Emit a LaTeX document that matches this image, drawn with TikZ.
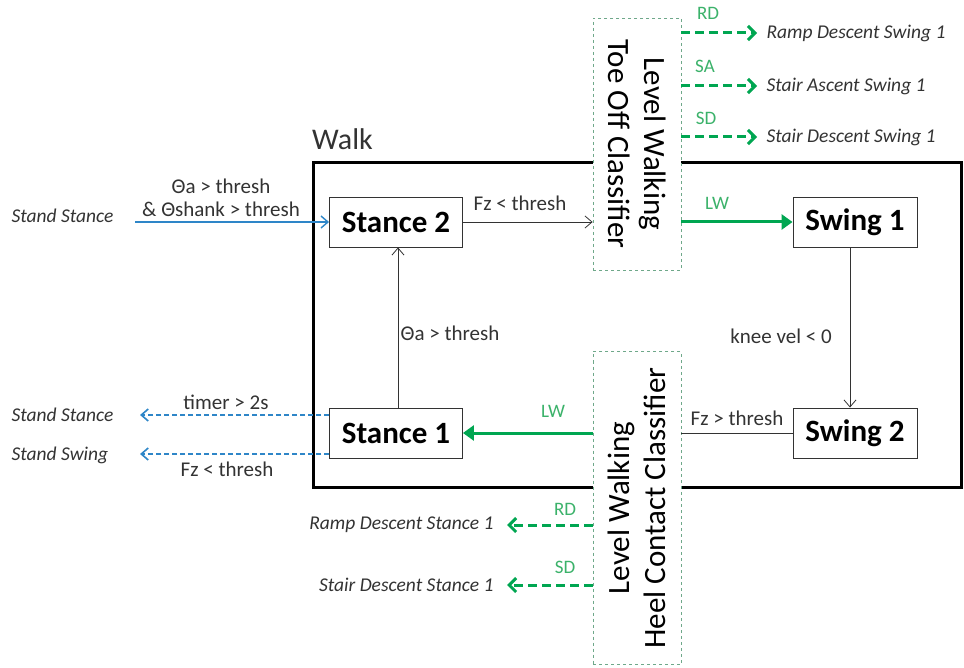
\documentclass[tikz,border=0pt]{standalone}
\usepackage{fontspec}
\setmainfont{Carlito}
\usetikzlibrary{arrows.meta}
\definecolor{gline}{HTML}{00A651}
\definecolor{glab}{HTML}{3BB26A}
\definecolor{bline}{HTML}{2E86C8}
\definecolor{clfborder}{HTML}{6FA88A}
\definecolor{tgray}{HTML}{333333}
\tikzset{
  stbox/.style={draw=tgray, line width=0.9pt, minimum width=133pt, minimum height=50pt, font=\fontsize{31}{33}\selectfont\bfseries, text=black, fill=white, inner sep=0pt},
  clf/.style={draw=clfborder, dashed, line width=0.8pt, fill=white},
  clftext/.style={align=center, font=\fontsize{31}{36}\selectfont, text=black},
  tgt/.style={font=\fontsize{19.5}{22}\selectfont\itshape, text=tgray},
  cond/.style={font=\fontsize{21}{23}\selectfont, text=tgray},
  glabel/.style={font=\fontsize{19}{21}\selectfont, text=glab},
  thinarr/.style={draw=tgray, line width=0.8pt, -{Straight Barb[length=7pt,width=12pt]}},
  bluearr/.style={draw=bline, line width=1.4pt, -{Straight Barb[length=7pt,width=12pt]}},
  bluedash/.style={draw=bline, line width=1.4pt, dash pattern=on 5pt off 3pt, -{Straight Barb[length=7pt,width=12pt,line width=1.6pt]}},
  greenarr/.style={draw=gline, line width=3pt, -{Triangle[length=11pt,width=15pt]}},
  greendash/.style={draw=gline, line width=3pt, dash pattern=on 9pt off 5pt, -{Straight Barb[length=7pt,width=14pt,line width=3pt]}},
}
\begin{document}
\begin{tikzpicture}[x=1pt,y=-1pt]
\useasboundingbox[fill=white] (0,0) rectangle (964,668);
% walk box
\node[draw=black, line width=3pt, minimum width=648pt, minimum height=324pt] (walk) at (637,325) {};
\node[font=\fontsize{30}{32}\selectfont, text=tgray, anchor=base west, inner sep=0pt] (walklabel) at (312,150) {Walk};
% states
\node[stbox] (st2) at (396,222) {Stance 2};
\node[stbox, minimum width=124pt] (sw1) at (855,222) {Swing 1};
\node[stbox] (st1) at (396,433) {Stance 1};
\node[stbox, minimum width=124pt] (sw2) at (855,433) {Swing 2};
% classifiers
\node[clf, minimum width=88pt, minimum height=252pt] (toc) at (637,144) {};
\node[clftext, rotate=-90] (toctext) at (toc.center) {Level Walking\\Toe Off Classifier};
\node[clf, minimum width=88pt, minimum height=313pt] (hcc) at (637,508) {};
\node[clftext, rotate=90] (hcctext) at (hcc.center) {Level Walking\\Heel Contact Classifier};
% Stand stance in
\node[tgt, anchor=west] (sstin) at (8,216) {Stand Stance};
\coordinate (ain) at (135,222);
\draw[bluearr] (ain) -- (st2.west);
\node[cond, align=center] (c0) at (221,198) {Θa > thresh\\\& Θshank > thresh};
% stance2 -> toc
\draw[thinarr] (st2.east) -- (st2.east -| toc.west);
\node[cond] (c1) at (520,203) {Fz < thresh};
% toc -> swing1
\draw[greenarr] (toc.east |- sw1.west) -- (sw1.west);
\node[glabel] (l1) at (717,203) {LW};
% swing1 -> swing2
\draw[thinarr] ([xshift=-5pt]sw1.south) -- ([xshift=-5pt]sw2.north);
\node[cond] (c2) at (781,336) {knee vel < 0};
% swing2 -> hcc
\draw[draw=tgray, line width=0.8pt] (sw2.west) -- (sw2.west -| hcc.east);
\node[cond] (c3) at (737,418) {Fz > thresh};
% hcc -> stance1
\draw[greenarr] (hcc.west |- st1.east) -- (st1.east);
\node[glabel] (l2) at (553,411) {LW};
% stance1 -> stance2
\draw[thinarr] ([xshift=2pt]st1.north) -- ([xshift=2pt]st2.south);
\node[cond] (c4) at (450,333) {Θa > thresh};
% stance1 out
\node[tgt, anchor=west] (sstout) at (8,415) {Stand Stance};
\node[tgt, anchor=west] (sswout) at (8,455) {Stand Swing};
\coordinate (o1) at (140,415);
\coordinate (o2) at (140,454);
\draw[bluedash] (st1.west |- o1) -- (o1);
\draw[bluedash] (st1.west |- o2) -- (o2);
\node[cond] (c5) at (226,402) {timer > 2s};
\node[cond] (c6) at (227,469) {Fz < thresh};
% toc outputs
\node[tgt, anchor=west] (t1) at (763,33) {Ramp Descent Swing 1};
\node[tgt, anchor=west] (t2) at (763,86) {Stair Ascent Swing 1};
\node[tgt, anchor=west] (t3) at (763,137) {Stair Descent Swing 1};
\draw[greendash] (t1.west -| toc.east) -- ([xshift=-6pt]t1.west);
\draw[greendash] (t2.west -| toc.east) -- ([xshift=-6pt]t2.west);
\draw[greendash] (t3.west -| toc.east) -- ([xshift=-6pt]t3.west);
\node[glabel] (g1) at (708,13) {RD};
\node[glabel] (g2) at (705,66) {SA};
\node[glabel] (g3) at (706,118) {SD};
% hcc outputs
\node[tgt, anchor=east] (b1) at (497,525) {Ramp Descent Stance 1};
\node[tgt, anchor=east] (b2) at (497,585) {Stair Descent Stance 1};
\draw[greendash] (b1.east -| hcc.west) -- ([xshift=10pt]b1.east);
\draw[greendash] (b2.east -| hcc.west) -- ([xshift=10pt]b2.east);
\node[glabel] (g4) at (565,509) {RD};
\node[glabel] (g5) at (565,567) {SD};
\end{tikzpicture}
\end{document}
